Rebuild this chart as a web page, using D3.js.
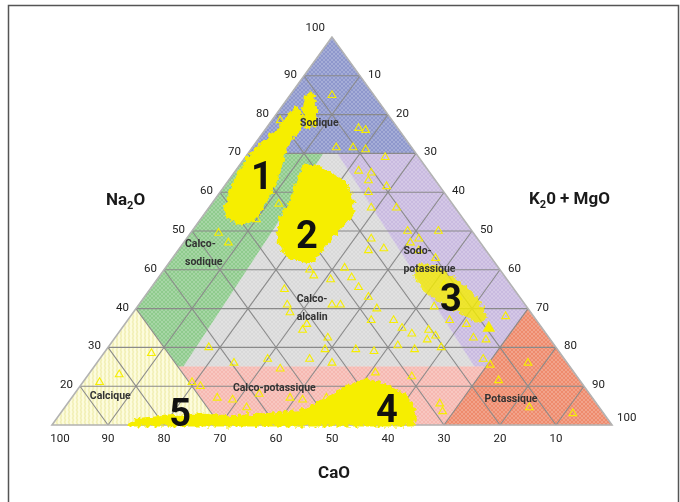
<!DOCTYPE html>
<html>
<head>
<meta charset="utf-8">
<script src="https://cdn.jsdelivr.net/npm/d3@7"></script>
<style>
  html, body { margin: 0; padding: 0; background: #fff; }
  svg { display: block; font-family: Roboto, "Open Sans", "Liberation Sans", sans-serif; }
</style>
</head>
<body>
<svg id="chart" width="680" height="502"></svg>
<script>
// Every composition below is [Na2O, K2O+MgO] in percent; CaO = 100 - Na2O - (K2O+MgO).

// Axis ticks
const naTickValues = [100, 90, 80, 70, 60, 50, 40, 30, 20, 10];
const naTickLabels = ["100", "90", "80", "70", "60", "50", "60", "40", "30", "20"];
const kTickValues  = [10, 20, 30, 40, 50, 60, 70, 80, 90, 100];
const kTickLabels  = ["10", "20", "30", "40", "50", "60", "70", "80", "90", "100"];
const caTickValues = [100, 90, 80, 70, 60, 50, 40, 30, 20, 10];
const caTickLabels = ["100", "90", "80", "70", "60", "50", "40", "30", "20", "10"];

// Classification fields
const fieldNames = ["Sodique", "Calco-sodique", "Calco-alcalin", "Sodo-potassique",
                    "Calco-potassique", "Calcique", "Potassique"];
const fieldBounds = [
  [[100, 0], [70, 0], [70, 30]],
  [[70, 0], [70, 13.5], [15, 16], [15, 15], [30, 0]],
  [[70, 13.5], [70, 16], [15, 68], [15, 16]],
  [[70, 16], [70, 30], [30, 70], [15, 70], [15, 68]],
  [[15, 15], [15, 70], [0, 70], [0, 30]],
  [[30, 0], [0, 0], [0, 30]],
  [[30, 70], [0, 100], [0, 70]]
];

// Dense clouds of analyses (groups 1 to 5)
const group1Tongue = [[85, 3], [85.8, 3.5], [81.2, 6.5], [77.3, 8.3], [76.8, 7], [81.2, 4.4]];
const group1 = [[81.7, 2.7], [79.9, 4.6], [76.5, 6], [73.5, 5.8], [69.6, 6.5], [64.4, 8.2],
                [59.8, 9], [56.2, 9.6], [52.8, 9.5], [51.8, 7.7], [53.4, 4.7], [56.2, 3],
                [59.8, 1.9], [64.4, 1], [68.8, 0.6], [72.7, 1.2], [76, 2.4], [79.9, 2.5]];
const group2 = [[67, 11.7], [65.7, 15.9], [62.6, 21], [58.5, 24.3], [54.1, 26.5], [50.8, 26],
                [45.1, 25.6], [42, 25.1], [43, 21], [47.2, 16.8], [52.8, 14.3], [58, 13.9],
                [63.1, 12.3]];
const group3 = [[41.5, 45], [40.5, 48.5], [37, 54], [32.5, 59.5], [28, 63.5], [26.5, 63],
                [29.5, 58], [32, 53], [35, 49], [38.5, 45.5]];
const group4 = [[3.4, 42.6], [6.4, 45.6], [10.1, 47.9], [11.6, 50.6], [10.1, 55], [7.7, 59.1],
                [3.9, 62.9], [0, 64.3], [0, 44.2]];
const group5 = [[0, 13.9], [1.5, 14.9], [2.1, 20.1], [2.6, 25.1], [2.1, 30.8], [2.6, 35.8],
                [3.4, 42.6], [0, 44.3]];

// Individual analyses
const samples = [
  [85, 7.5], [76.5, 16.5], [76, 18], [71.5, 15], [71.5, 18], [71, 20.5], [69, 25], [78.5, 1.5],
  [71, 1.5], [65.5, 14.5], [65.5, 22], [65, 24.5], [61.5, 29], [63, 25], [56, 29], [56, 33.5],
  [50, 38.5], [48, 41.5], [50, 44], [45.5, 36.5], [48, 33], [45, 34], [47, 40.5], [45, 43],
  [35.5, 37], [33, 40], [27, 47.5], [25, 50], [30.5, 53], [27, 57.5], [26, 61], [22.5, 64],
  [28, 67], [24.5, 55], [23, 57], [30, 43], [23.5, 52.5], [22, 56], [20, 59.5], [19.5, 44.5],
  [19, 48], [12.5, 58], [5.5, 66.5], [17, 68.5], [15.5, 70.5], [11.5, 74], [16, 77], [4.5, 83],
  [3, 91.5], [22, 66.5], [49.5, 5], [47, 8], [53, 10], [35, 24], [31, 26.5], [29, 28],
  [26, 32.5], [22.5, 38], [31, 34.5], [31, 36], [40.5, 32], [38, 34.5], [27, 43.5], [38.5, 27.5],
  [37.5, 31], [24.5, 32.5], [20, 18], [16, 24.5], [13, 5.5], [18.5, 8.5], [11, 19.5], [10, 21.5],
  [7, 26], [6.5, 29], [4.5, 32.5], [17, 30], [14.5, 33.5], [17, 37.5], [19.5, 39], [7, 45.5],
  [8, 33], [11, 3], [7, 39], [6.5, 41.5], [16, 42], [20.5, 51.5], [19.5, 55], [13.5, 51],
  [3.5, 68], [43, 47], [36, 52], [33, 56], [40, 26], [60, 26.5], [57, 12]
];
const samplesFilled = [[25, 65.5]];

// ---------------------------------------------------------------------------
const svg = d3.select("#chart");

// Ternary geometry: Na2O sets height, K2O+MgO (plus half of Na2O) sets horizontal position
const xScale = d3.scaleLinear().domain([0, 100]).range([52, 612]);
const yScale = d3.scaleLinear().domain([0, 100]).range([425, 37]);
const proj = d => [xScale(d[1] + d[0] / 2), yScale(d[0])];
const line = d3.line().x(d => proj(d)[0]).y(d => proj(d)[1]).curve(d3.curveLinearClosed);

const fieldColors = {
  "Sodique": "#8e97cc",
  "Calco-sodique": "#8fcb8d",
  "Calco-alcalin": "#d9d9d9",
  "Sodo-potassique": "#c9bae0",
  "Calco-potassique": "#f6b8b1",
  "Calcique": "url(#stripes)",
  "Potassique": "#ee8b6d"
};

const defs = svg.append("defs");
const stripes = defs.append("pattern").attr("id", "stripes")
  .attr("patternUnits", "userSpaceOnUse").attr("width", 4).attr("height", 4);
stripes.append("rect").attr("width", 4).attr("height", 4).attr("fill", "#fcfbd6");
stripes.append("rect").attr("width", 2).attr("height", 4).attr("fill", "#f2f0b6");

const hatch = defs.append("pattern").attr("id", "hatch")
  .attr("patternUnits", "userSpaceOnUse").attr("width", 4).attr("height", 4);
hatch.append("path").attr("d", "M0,0L4,4M4,0L0,4")
  .attr("stroke", "#ffffff").attr("stroke-width", 0.6).attr("opacity", 0.35);

// Ragged outline for the point clouds
const rough = defs.append("filter").attr("id", "rough")
  .attr("x", "-10%").attr("y", "-10%").attr("width", "120%").attr("height", "120%");
rough.append("feTurbulence").attr("type", "fractalNoise").attr("baseFrequency", 0.22)
  .attr("numOctaves", 2).attr("seed", 7).attr("result", "noise");
rough.append("feDisplacementMap").attr("in", "SourceGraphic").attr("in2", "noise")
  .attr("scale", 8).attr("xChannelSelector", "R").attr("yChannelSelector", "G");

// Outer frame (open at the bottom)
svg.append("path")
  .attr("d", "M8.5,512V5.5H678.5V512")
  .attr("fill", "none").attr("stroke", "#555").attr("stroke-width", 1.5);

// Fields
const gFields = svg.append("g");
fieldNames.forEach((name, i) => {
  gFields.append("path").attr("d", line(fieldBounds[i]))
    .attr("fill", fieldColors[name]).attr("stroke", fieldColors[name]).attr("stroke-width", 0.5);
});
const outline = [[100, 0], [0, 0], [0, 100]];
svg.append("path").attr("d", line(outline)).attr("fill", "url(#hatch)");

// Grid: lines of constant Na2O, K2O+MgO and CaO every 10 %
const gGrid = svg.append("g").attr("stroke", "#8a8a8a").attr("stroke-width", 1.1).attr("fill", "none");
d3.range(10, 100, 10).forEach(v => {
  const segs = [
    [[v, 0], [v, 100 - v]],          // Na2O = v
    [[0, v], [100 - v, v]],          // K2O+MgO = v
    [[0, 100 - v], [100 - v, 0]]     // CaO = v
  ];
  segs.forEach(s => {
    const a = proj(s[0]), b = proj(s[1]);
    gGrid.append("line").attr("x1", a[0]).attr("y1", a[1]).attr("x2", b[0]).attr("y2", b[1]);
  });
});
svg.append("path").attr("d", line(outline))
  .attr("fill", "none").attr("stroke", "#b3b3b3").attr("stroke-width", 1.6);

// Analyses
const yellow = "#f6ee00";
const gData = svg.append("g");
const gClouds = gData.append("g").attr("filter", "url(#rough)");
[group1Tongue, group1, group2, group3, group4, group5].forEach((poly, i) => {
  gClouds.append("path").attr("d", line(poly))
    .attr("fill", yellow).attr("stroke", yellow)
    .attr("stroke-width", 3).attr("stroke-linejoin", "round")
    .attr("opacity", i === 3 ? 0.8 : 1);
});
const tri = d3.symbol().type(d3.symbolTriangle).size(26);
gData.selectAll("path.s").data(samples).join("path").attr("class", "s")
  .attr("d", tri)
  .attr("transform", d => `translate(${proj(d)[0]},${proj(d)[1]})`)
  .attr("fill", "none").attr("stroke", yellow).attr("stroke-width", 1.1);
gData.selectAll("path.f").data(samplesFilled).join("path").attr("class", "f")
  .attr("d", d3.symbol().type(d3.symbolTriangle).size(70))
  .attr("transform", d => `translate(${proj(d)[0]},${proj(d)[1]})`)
  .attr("fill", yellow);

// Field names (anchor = baseline of the first line)
const fieldLabels = [
  { lines: ["Sodique"], at: [77.1, 9.2], anchor: "middle" },
  { lines: ["Calco-", "sodique"], at: [45.9, 0.8], anchor: "start" },
  { lines: ["Calco-", "alcalin"], at: [31.7, 30.6], anchor: "middle" },
  { lines: ["Sodo-", "potassique"], at: [44.1, 40.7], anchor: "start" },
  { lines: ["Calco-potassique"], at: [8.8, 27.9], anchor: "start" },
  { lines: ["Calcique"], at: [6.7, 3.4], anchor: "start" },
  { lines: ["Potassique"], at: [5.9, 74.3], anchor: "start" }
];
const gLab = svg.append("g").attr("font-size", 10.5).attr("font-weight", "bold").attr("fill", "#333");
fieldLabels.forEach(l => {
  const p = proj(l.at);
  l.lines.forEach((t, j) => {
    gLab.append("text").attr("x", p[0]).attr("y", p[1] + j * 18)
      .attr("text-anchor", l.anchor).text(t);
  });
});

// Group numbers
const groupNames = ["1", "2", "3", "4", "5"];
const groupAt = [[64.4, 5.3], [49.2, 20.9], [33, 54.75], [4.4, 57.6], [3.35, 21.2]];
svg.append("g").attr("font-size", 38).attr("font-weight", "bold").attr("fill", "#111")
  .attr("text-anchor", "middle")
  .selectAll("text").data(groupNames).join("text")
  .attr("x", (d, i) => proj(groupAt[i])[0])
  .attr("y", (d, i) => proj(groupAt[i])[1])
  .attr("dy", "0.36em").text(d => d);

// Tick labels
const gTick = svg.append("g").attr("font-size", 11.5).attr("fill", "#222");
naTickValues.forEach((v, i) => {
  const p = proj([v, 0]);
  const top = v === 100;
  gTick.append("text").attr("x", p[0] - 7).attr("y", p[1] + (top ? -6 : 2))
    .attr("text-anchor", "end").text(naTickLabels[i]);
});
kTickValues.forEach((v, i) => {
  const p = proj([100 - v, v]);
  const end = v === 100;
  gTick.append("text").attr("x", p[0] + (end ? 5 : 8)).attr("y", p[1] + (end ? -4 : 2))
    .attr("text-anchor", "start").text(kTickLabels[i]);
});
caTickValues.forEach((v, i) => {
  const p = proj([0, 100 - v]);
  gTick.append("text").attr("x", p[0] + (v === 100 ? 8 : 0)).attr("y", p[1] + 17)
    .attr("text-anchor", "middle").text(caTickLabels[i]);
});

// Axis titles
const gTitle = svg.append("g").attr("font-size", 17).attr("font-weight", "bold").attr("fill", "#1a1a1a");
const naT = gTitle.append("text").attr("x", 106).attr("y", 205);
naT.append("tspan").text("Na");
naT.append("tspan").attr("font-size", 11).attr("dy", 4).text("2");
naT.append("tspan").attr("dy", -4).text("O");
const kT = gTitle.append("text").attr("x", 529).attr("y", 204);
kT.append("tspan").text("K");
kT.append("tspan").attr("font-size", 11).attr("dy", 4).text("2");
kT.append("tspan").attr("dy", -4).text("0 + MgO");
gTitle.append("text").attr("x", 334).attr("y", 478).attr("text-anchor", "middle").text("CaO");
</script>
</body>
</html>
